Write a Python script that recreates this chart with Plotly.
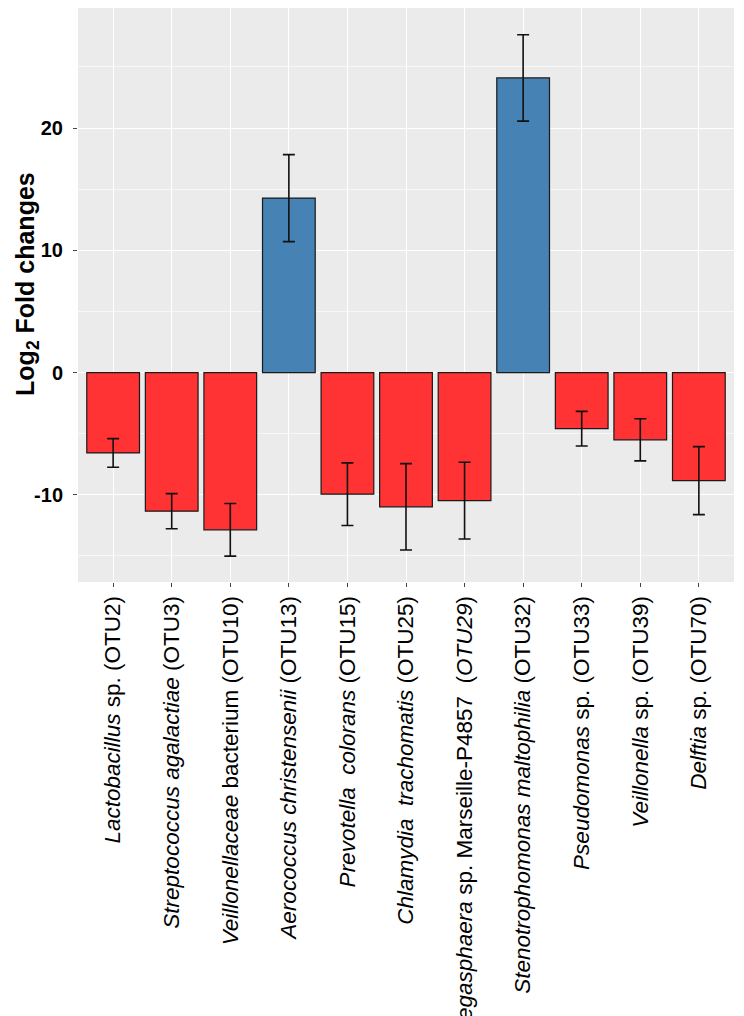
import plotly.graph_objects as go

categories = [
    "<i>Lactobacillus</i> sp. (OTU2)",
    "<i>Streptococcus agalactiae</i> (OTU3)",
    "<i>Veillonellaceae</i> bacterium (OTU10)",
    "<i>Aerococcus christensenii</i> (OTU13)",
    "<i>Prevotella\u00a0 colorans</i> (OTU15)",
    "<i>Chlamydia\u00a0 trachomatis</i> (OTU25)",
    "<i>Megasphaera</i> sp. Marseille-P4857\u00a0 (<i>OTU29</i>)",
    "<i>Stenotrophomonas maltophilia</i> (OTU32)",
    "<i>Pseudomonas</i> sp. (OTU33)",
    "<i>Veillonella</i> sp. (OTU39)",
    "<i>Delftia</i> sp. (OTU70)",
]
log2_fold_changes = [-6.57, -11.34, -12.86, 14.27, -9.95, -10.98, -10.47, 24.1, -4.59, -5.5, -8.84]
errors = [1.17, 1.44, 2.15, 3.56, 2.56, 3.53, 3.14, 3.53, 1.42, 1.72, 2.78]
y_ticks = [-10, 0, 10, 20]

UP = "#4682B4"
DOWN = "#FF3333"
colors = [UP if v > 0 else DOWN for v in log2_fold_changes]

FONT = "Liberation Sans, Arial, Helvetica, sans-serif"

fig = go.Figure()
fig.add_trace(go.Bar(
    x=categories,
    y=log2_fold_changes,
    marker=dict(color=colors, line=dict(color="#1a1a1a", width=1.2)),
    width=0.9,
    error_y=dict(type="data", array=errors, visible=True,
                 color="#111111", thickness=1.6, width=6),
    showlegend=False,
))

fig.update_layout(
    width=744, height=1016,
    margin=dict(l=70, r=18, t=0, b=442, autoexpand=False),
    paper_bgcolor="white",
    plot_bgcolor="#EBEBEB",
    font=dict(family=FONT, color="black"),
    bargap=0.1,
    xaxis=dict(
        showgrid=True, gridcolor="white", gridwidth=1.2,
        tickangle=-90,
        ticks="outside", ticklen=4, tickcolor="#444444", tickwidth=1,
        tickfont=dict(size=22.5, color="black", family=FONT),
        showline=False, zeroline=False,
        range=[-0.6, len(categories) - 0.4],
    ),
    yaxis=dict(
        range=[-17.13, 29.82],
        tickvals=y_ticks,
        ticktext=[str(v) for v in y_ticks],
        showgrid=True, gridcolor="white", gridwidth=1.2,
        zeroline=False, showline=False,
        ticks="outside", ticklen=4, tickcolor="#444444", tickwidth=1,
        tickfont=dict(size=20, color="black", family=FONT, weight="bold"),
        ticklabelstandoff=6,
        minor=dict(tick0=-15, dtick=10, showgrid=True, gridcolor="#F7F7F7", gridwidth=0.6, ticks=""),
    ),
)

fig.add_annotation(
    text="<b>Log<sub>2</sub> Fold changes</b>",
    textangle=-90,
    xref="paper", yref="paper",
    x=-0.078, y=0.519,
    xanchor="center", yanchor="middle",
    showarrow=False,
    font=dict(size=25, color="black", family=FONT),
)

fig.write_html("out.html")
